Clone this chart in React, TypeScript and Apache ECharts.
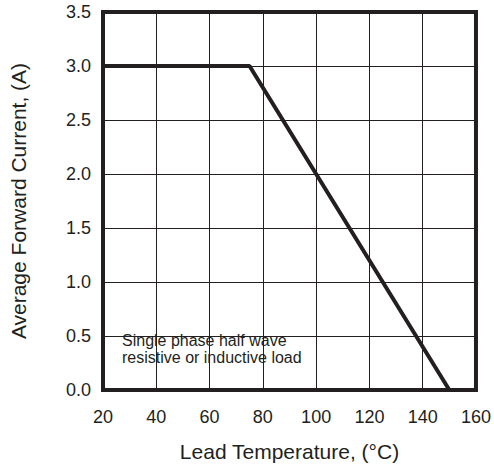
import React, { useEffect, useRef } from "react";
import * as echarts from "echarts";

const temperature = [20, 75, 150];
const current = [3.0, 3.0, 0.0];
const xTicks = [20, 40, 60, 80, 100, 120, 140, 160];
const noteLines = ["Single phase half wave", "resistive or inductive load"];

const INK = "#231f20";
const FONT = "'Liberation Sans', Arial, sans-serif";

export default function App() {
  const ref = useRef<HTMLDivElement>(null);
  useEffect(() => {
    if (!ref.current) return;
    const chart = echarts.init(ref.current, undefined, { renderer: "svg" });
    chart.setOption({
      animation: false,
      backgroundColor: "#ffffff",
      grid: {
        left: 100,
        top: 12,
        right: 15,
        bottom: 78,
        show: true,
        borderColor: INK,
        borderWidth: 4,
        z: 4,
        backgroundColor: "transparent",
      },
      xAxis: {
        type: "value",
        min: xTicks[0],
        max: xTicks[xTicks.length - 1],
        interval: 20,
        name: "Lead Temperature, (°C)",
        nameLocation: "middle",
        nameGap: 51,
        nameTextStyle: { color: INK, fontSize: 21, fontFamily: FONT },
        axisLine: { show: false },
        axisTick: { show: false },
        axisLabel: { color: INK, fontSize: 18, fontFamily: FONT, margin: 18 },
        splitLine: { show: true, lineStyle: { color: INK, width: 1 } },
      },
      yAxis: {
        type: "value",
        min: 0,
        max: 3.5,
        interval: 0.5,
        name: "Average Forward Current, (A)",
        nameLocation: "middle",
        nameGap: 74,
        nameTextStyle: { color: INK, fontSize: 21, fontFamily: FONT },
        axisLine: { show: false },
        axisTick: { show: false },
        axisLabel: {
          color: INK,
          fontSize: 18,
          fontFamily: FONT,
          margin: 12,
          formatter: (v: number) => v.toFixed(1),
        },
        splitLine: { show: true, lineStyle: { color: INK, width: 1 } },
      },
      graphic: [
        {
          type: "group",
          z: 2,
          children: [
            {
              type: "rect",
              shape: { x: 113, y: 325, width: 195, height: 45 },
              style: { fill: "#ffffff" },
            },
            {
              type: "text",
              x: 122,
              y: 332,
              style: {
                text: noteLines.join("\n"),
                fill: INK,
                fontSize: 16,
                fontFamily: FONT,
                lineHeight: 17,
              },
            },
          ],
        },
      ],
      series: [
        {
          type: "line",
          data: temperature.map((t, i) => [t, current[i]]),
          symbol: "none",
          z: 5,
          lineStyle: { color: INK, width: 4 },
        },
      ],
    });
    return () => chart.dispose();
  }, []);
  return (
    <div
      ref={ref}
      style={{ position: "fixed", left: 0, top: 0, width: 494, height: 468 }}
    />
  );
}
